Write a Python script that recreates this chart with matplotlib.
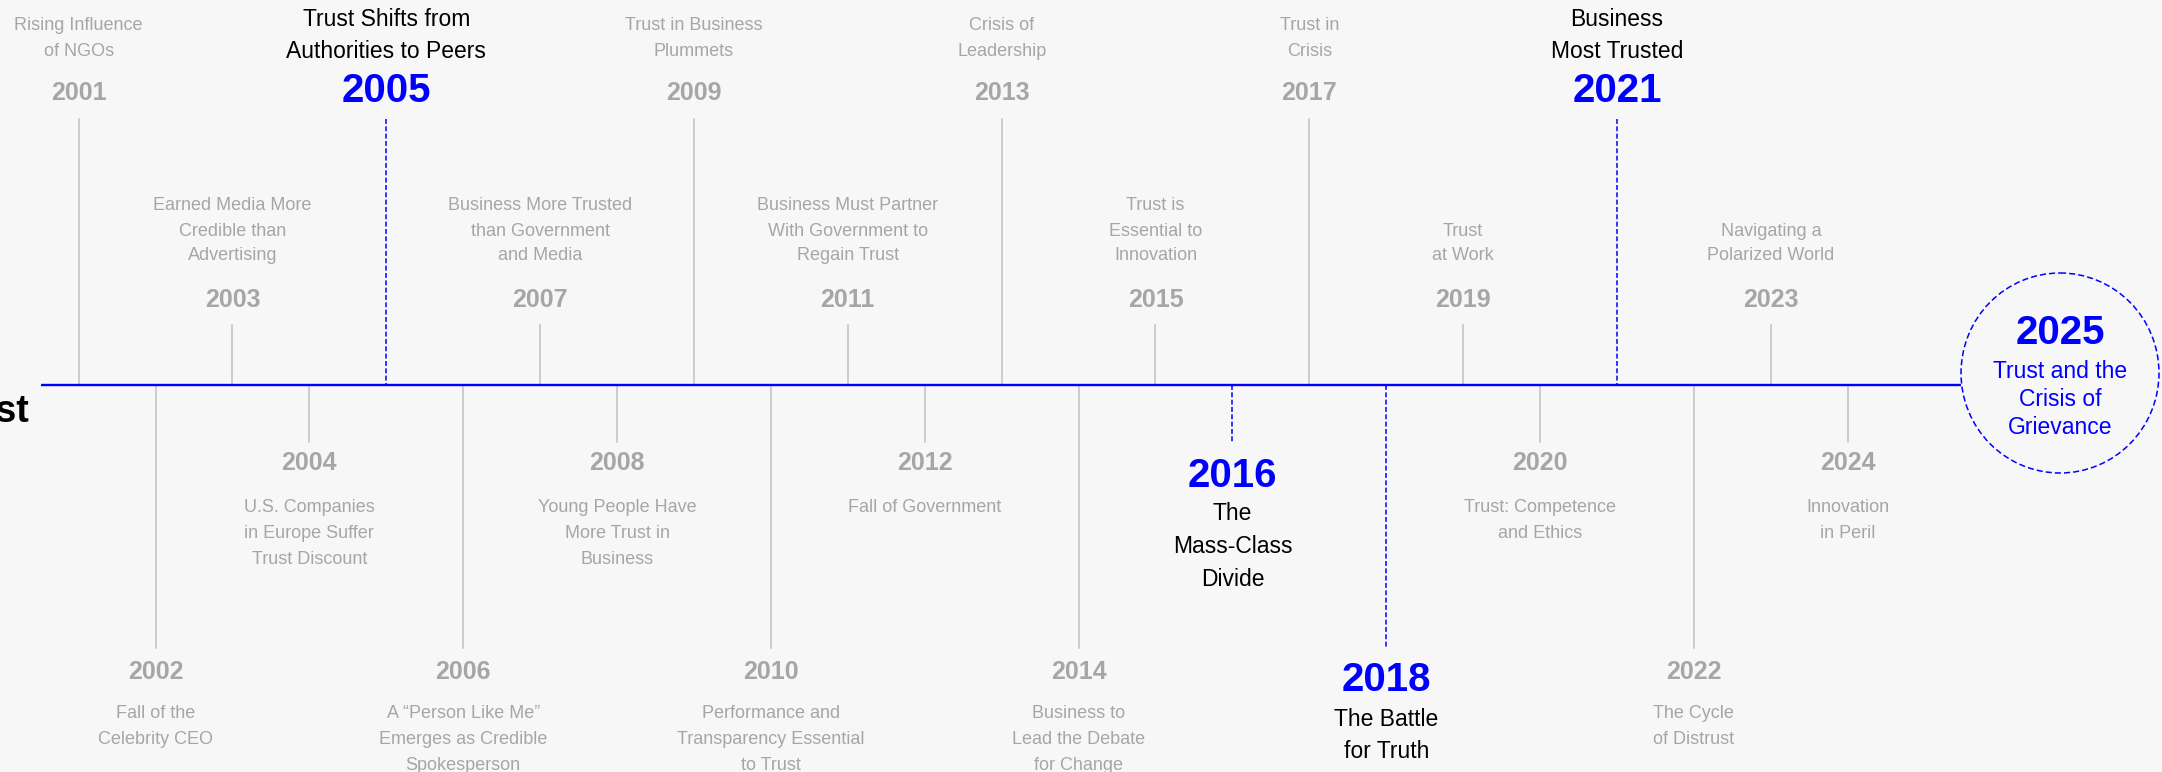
import matplotlib
matplotlib.use("Agg")
import matplotlib.pyplot as plt
from matplotlib.patches import Ellipse

# ---------------- data ----------------
years = list(range(2001, 2025))
descriptions = [
    "Rising Influence\nof NGOs",
    "Fall of the\nCelebrity CEO",
    "Earned Media More\nCredible than\nAdvertising",
    "U.S. Companies\nin Europe Suffer\nTrust Discount",
    "Trust Shifts from\nAuthorities to Peers",
    "A \u201cPerson Like Me\u201d\nEmerges as Credible\nSpokesperson",
    "Business More Trusted\nthan Government\nand Media",
    "Young People Have\nMore Trust in\nBusiness",
    "Trust in Business\nPlummets",
    "Performance and\nTransparency Essential\nto Trust",
    "Business Must Partner\nWith Government to\nRegain Trust",
    "Fall of Government",
    "Crisis of\nLeadership",
    "Business to\nLead the Debate\nfor Change",
    "Trust is\nEssential to\nInnovation",
    "The\nMass-Class\nDivide",
    "Trust in\nCrisis",
    "The Battle\nfor Truth",
    "Trust\nat Work",
    "Trust: Competence\nand Ethics",
    "Business\nMost Trusted",
    "The Cycle\nof Distrust",
    "Navigating a\nPolarized World",
    "Innovation\nin Peril",
]
highlight_years = [2005, 2016, 2018, 2021]
final_year = 2025
final_description = "Trust and the\nCrisis of\nGrievance"
side_title = "Trust"

# ---------------- style ----------------
W, H = 2162, 772
BG = "#f7f7f7"
BLUE = "#0000ff"
GRAY_TXT = "#a6a6a6"
GRAY_LINE = "#c0c0c0"
FONT = "Liberation Sans"
plt.rcParams["font.family"] = [FONT, "DejaVu Sans"]

fig = plt.figure(figsize=(W / 100, H / 100), dpi=100, facecolor=BG)
ax = fig.add_axes([0, 0, 1, 1])
ax.set_facecolor(BG)
PX_PER_YEAR = 76.92
X0 = years[0] - 78.6 / PX_PER_YEAR
ax.set_xlim(X0, X0 + W / PX_PER_YEAR)
ax.set_ylim(H, 0)
ax.axis("off")


def px2x(px):
    return X0 + px / PX_PER_YEAR


AXIS_Y = 385
CIRCLE_CX, CIRCLE_CY, CIRCLE_W, CIRCLE_H = 2060, 373, 198, 200

# main axis line
ax.plot([px2x(41), px2x(CIRCLE_CX - CIRCLE_W / 2)], [AXIS_Y, AXIS_Y],
        color=BLUE, lw=1.7, solid_capstyle="butt", zorder=3)

# side title (partly off-canvas)
ax.text(px2x(29), 422, side_title, ha="right", va="baseline",
        fontsize=27, fontweight="bold", color="black")

# layout per slot: (line_top, line_bottom, year_y, desc_anchor, spacing, direction)
normal_layout = {
    ("top", "tall"): (119, AXIS_Y, 93, 51, 26, -1),
    ("top", "short"): (325, AXIS_Y, 300, 256, 25, -1),
    ("bot", "short"): (AXIS_Y, 442, 463, 508, 25.5, 1),
    ("bot", "tall"): (AXIS_Y, 648, 672, 714, 26, 1),
}
hl_layout = {
    ("top", "tall"): (119, AXIS_Y, 91, 51, 31, -1),
    ("top", "short"): (325, AXIS_Y, 296, 250, 31, -1),
    ("bot", "short"): (AXIS_Y, 442, 476, 514, 32.5, 1),
    ("bot", "tall"): (AXIS_Y, 648, 680, 720, 32, 1),
}

for yr, desc in zip(years, descriptions):
    above = (yr - years[0]) % 2 == 0
    if above:
        tall = (yr - years[0]) % 4 == 0
        key = ("top", "tall" if tall else "short")
    else:
        tall = (yr - years[1]) % 4 == 0
        key = ("bot", "tall" if tall else "short")
    hl = yr in highlight_years
    lt, lb, year_y, anchor, sp, direction = (hl_layout if hl else normal_layout)[key]

    if hl:
        ax.plot([yr, yr], [lt, lb], color=BLUE, lw=1.1,
                linestyle=(0, (3.2, 1.6)), zorder=2)
        ax.text(yr, year_y, str(yr), ha="center", va="center",
                fontsize=29, fontweight="bold", color=BLUE)
        dfs, dcol = 16.5, "black"
    else:
        ax.plot([yr, yr], [lt, lb], color=GRAY_LINE, lw=1.1, zorder=2)
        ax.text(yr, year_y, str(yr), ha="center", va="center",
                fontsize=18, fontweight="bold", color=GRAY_TXT)
        dfs, dcol = 13, GRAY_TXT

    lines = desc.split("\n")
    n = len(lines)
    for i, line in enumerate(lines):
        if direction < 0:
            y = anchor - (n - 1 - i) * sp
        else:
            y = anchor + i * sp
        ax.text(yr, y, line, ha="center", va="center", fontsize=dfs, color=dcol)

# final year circle
ell = Ellipse((px2x(CIRCLE_CX), CIRCLE_CY), CIRCLE_W / PX_PER_YEAR, CIRCLE_H,
              facecolor=BG, edgecolor=BLUE, lw=1.1, linestyle=(0, (4, 2)), zorder=4)
ax.add_patch(ell)
ax.text(px2x(CIRCLE_CX), 333, str(final_year), ha="center", va="center",
        fontsize=29, fontweight="bold", color=BLUE, zorder=5)
for i, line in enumerate(final_description.split("\n")):
    ax.text(px2x(CIRCLE_CX), 371 + i * 28.5, line, ha="center", va="center",
            fontsize=16.5, color=BLUE, zorder=5)

fig.savefig("out.png", dpi=100, facecolor=BG)
